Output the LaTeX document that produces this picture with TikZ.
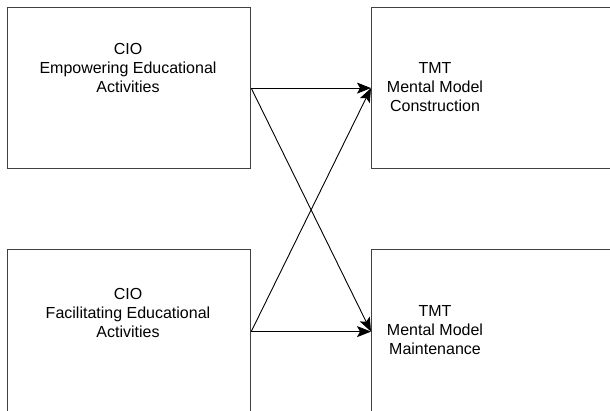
\documentclass[tikz,border=0pt]{standalone}
\usepackage{fontspec}
\setmainfont{Liberation Sans}
\usetikzlibrary{arrows.meta}

\begin{document}
\begin{tikzpicture}[x=1pt,y=-1pt,
	box/.style={draw=black!75,line width=1.2pt,minimum width=243pt,minimum height=161pt,inner sep=0pt},
	boxlow/.style={box,minimum height=164pt},
	lbl/.style={align=center,font=\fontsize{16}{18.6}\selectfont},
	link/.style={-{Stealth[length=14pt,width=11pt,inset=3pt]},line width=0.9pt}]
	\useasboundingbox (0,0) rectangle (610,411);
	\clip (0,0) rectangle (610,411);
	% boxes
	\node[box,anchor=north west] (empower) at (7,7) {};
	\node[boxlow,anchor=north west] (facil) at (7,249) {};
	\node[box,anchor=north west] (constr) at (371,7) {};
	\node[boxlow,anchor=north west] (maint) at (371,249) {};
	% texts
	\node[lbl] (empowerT) at (128,68) {CIO\\Empowering Educational\\Activities};
	\node[lbl] (facilT) at (128,313) {CIO\\Facilitating Educational\\Activities};
	\node[lbl] (constrT) at (435,87) {TMT\\Mental Model\\Construction};
	\node[lbl] (maintT) at (435,330) {TMT\\Mental Model\\Maintenance};
	% links
	\draw[link] (empower.east) -- (constr.west);
	\draw[link] (empower.east) -- (maint.west);
	\draw[link] (facil.east) -- (constr.west);
	\draw[link] (facil.east) -- (maint.west);
\end{tikzpicture}
\end{document}
